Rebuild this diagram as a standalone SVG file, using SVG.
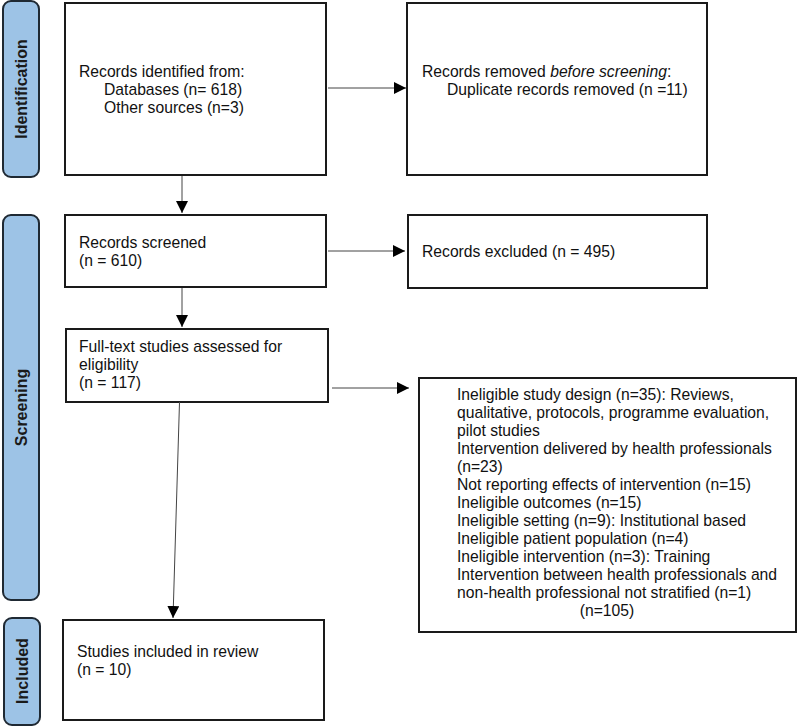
<svg xmlns="http://www.w3.org/2000/svg" width="797" height="726" viewBox="0 0 797 726">
<defs>
<style>
.bar{fill:#9dc3e6;stroke:#1f2933;stroke-width:2}
.box{fill:#fff;stroke:#1a1a1a;stroke-width:2}
.lbl{font-family:"Liberation Sans",Arial,sans-serif;font-size:16px;font-weight:bold;fill:#1a1a1a;text-anchor:middle}
.t{font-family:"Liberation Sans",Arial,sans-serif;font-size:15.7px;fill:#111}
.c{fill:none;stroke:#444;stroke-width:1}
</style>
<marker id="ah" markerUnits="userSpaceOnUse" markerWidth="12" markerHeight="12" viewBox="0 0 10 10" refX="10" refY="5" orient="auto">
<path d="M0,0 L10,5 L0,10 Z" fill="#000"/>
</marker>
</defs>
<rect width="797" height="726" fill="#fff"/>

<g id="phase-identification">
<rect class="bar" x="3" y="1" width="36" height="176" rx="8"/>
<text class="lbl" transform="translate(27,89) rotate(-90)">Identification</text>
</g>
<g id="phase-screening">
<rect class="bar" x="3" y="215" width="36" height="385" rx="8"/>
<text class="lbl" transform="translate(27,407.5) rotate(-90)">Screening</text>
</g>
<g id="phase-included">
<rect class="bar" x="4" y="618" width="36" height="107" rx="8"/>
<text class="lbl" transform="translate(28,671) rotate(-90)">Included</text>
</g>

<g id="records-identified">
<rect class="box" x="65" y="3" width="261" height="172"/>
<text class="t" x="79" y="77">Records identified from:</text>
<text class="t" x="104" y="95">Databases (n= 618)</text>
<text class="t" x="104" y="113">Other sources (n=3)</text>
</g>
<g id="records-removed">
<rect class="box" x="407" y="3" width="300" height="172"/>
<text class="t" x="422" y="77">Records removed <tspan font-style="italic">before screening</tspan>:</text>
<text class="t" x="447" y="95">Duplicate records removed (n =11)</text>
</g>
<g id="records-screened">
<rect class="box" x="65" y="215" width="261" height="72"/>
<text class="t" x="79" y="248">Records screened</text>
<text class="t" x="79" y="266">(n = 610)</text>
</g>
<g id="records-excluded">
<rect class="box" x="408" y="215" width="299" height="73"/>
<text class="t" x="422" y="257">Records excluded (n = 495)</text>
</g>
<g id="full-text">
<rect class="box" x="66" y="329" width="262" height="73"/>
<text class="t" x="79" y="352">Full-text studies assessed for</text>
<text class="t" x="79" y="370">eligibility</text>
<text class="t" x="79" y="388">(n = 117)</text>
</g>
<g id="full-text-excluded">
<rect class="box" x="419" y="378" width="377" height="254"/>
<text class="t" x="457" y="399.5">Ineligible study design (n=35): Reviews,</text>
<text class="t" x="457" y="417.5">qualitative, protocols, programme evaluation,</text>
<text class="t" x="457" y="435.5">pilot studies</text>
<text class="t" x="457" y="453.5">Intervention delivered by health professionals</text>
<text class="t" x="457" y="471.5">(n=23)</text>
<text class="t" x="457" y="489.5">Not reporting effects of intervention (n=15)</text>
<text class="t" x="457" y="507.5">Ineligible outcomes (n=15)</text>
<text class="t" x="457" y="525.5">Ineligible setting (n=9): Institutional based</text>
<text class="t" x="457" y="543.5">Ineligible patient population (n=4)</text>
<text class="t" x="457" y="561.5">Ineligible intervention (n=3): Training</text>
<text class="t" x="457" y="579.5">Intervention between health professionals and</text>
<text class="t" x="457" y="597.5">non-health professional not stratified (n=1)</text>
<text class="t" x="607" y="615.5" text-anchor="middle">(n=105)</text>
</g>
<g id="studies-included">
<rect class="box" x="63" y="620" width="261" height="100"/>
<text class="t" x="77" y="657">Studies included in review</text>
<text class="t" x="77" y="675">(n = 10)</text>
</g>

<g id="connectors">
<line class="c" x1="328" y1="88" x2="406" y2="88" marker-end="url(#ah)"/>
<line class="c" x1="182" y1="176" x2="182" y2="213" marker-end="url(#ah)"/>
<line class="c" x1="328" y1="251" x2="405" y2="251" marker-end="url(#ah)"/>
<line class="c" x1="182" y1="288" x2="182" y2="327" marker-end="url(#ah)"/>
<line class="c" x1="332" y1="388" x2="409" y2="388" marker-end="url(#ah)"/>
<line class="c" x1="179.5" y1="402" x2="173" y2="618" marker-end="url(#ah)"/>
</g>
</svg>
